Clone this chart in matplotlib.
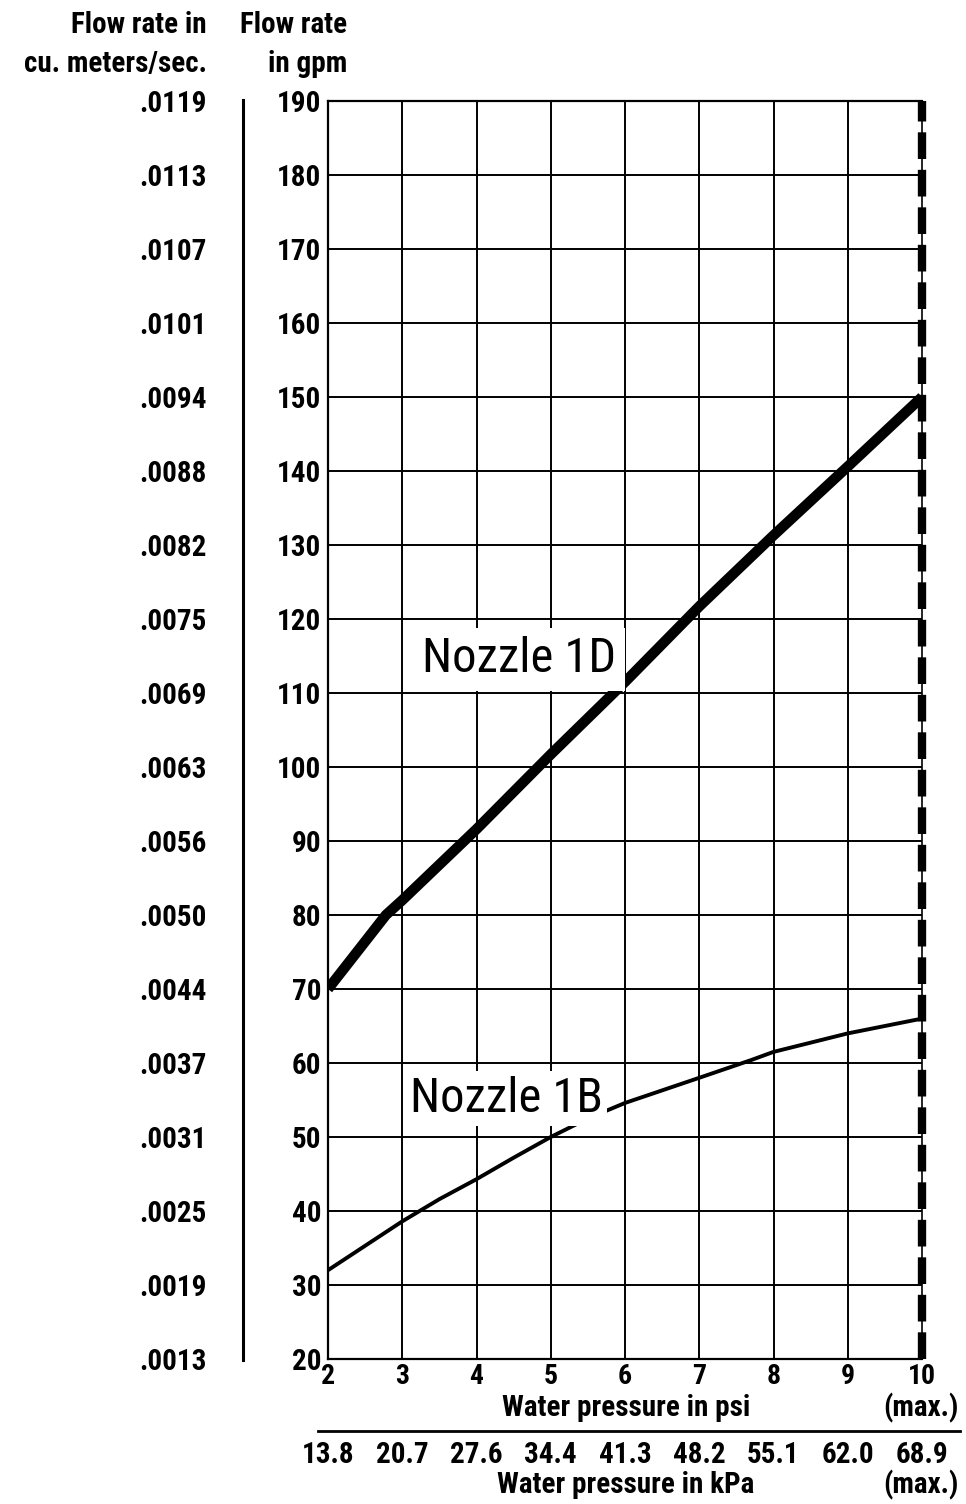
import matplotlib.pyplot as plt
import numpy as np

plt.rcParams['font.family'] = ['Roboto Condensed', 'DejaVu Sans']

# === DATA === #
psi = [2, 3, 4, 5, 6, 7, 8, 9, 10]
kpa = ['13.8', '20.7', '27.6', '34.4', '41.3', '48.2', '55.1', '62.0', '68.9']
gpm = [20, 30, 40, 50, 60, 70, 80, 90, 100, 110, 120, 130, 140, 150, 160, 170, 180, 190]
cms = ['.0013', '.0019', '.0025', '.0031', '.0037', '.0044', '.0050', '.0056', '.0063',
       '.0069', '.0075', '.0082', '.0088', '.0094', '.0101', '.0107', '.0113', '.0119']

# Nozzle 1D (thick line)
x1d = [2, 2.78, 3, 4, 5, 6, 7, 8, 9, 10]
y1d = [70, 80, 82, 91.6, 101.7, 111.5, 121.7, 131.3, 140.6, 150]

# Nozzle 1B (thin line)
x1b = [2, 3, 3.5, 4, 4.5, 5, 5.5, 6, 7, 7.7, 8, 9, 10]
y1b = [32, 38.6, 41.6, 44.3, 47.2, 50, 52.5, 54.6, 58, 60.4, 61.5, 64, 66]

W, H = 966, 1504
fig = plt.figure(figsize=(W / 100, H / 100), dpi=100)
x0, x1 = 328, 922
ytop, ybot = 101, 1359
ax = fig.add_axes([x0 / W, 1 - ybot / H, (x1 - x0) / W, (ybot - ytop) / H])

ax.set_xlim(2, 10)
ax.set_ylim(20, 190)

FS = 21   # general text size

# grid
for v in psi[1:-1]:
    ax.axvline(v, color='black', lw=1.4, zorder=1)
for g in gpm[1:-1]:
    ax.axhline(g, color='black', lw=1.4, zorder=1)

for s in ['left', 'top', 'bottom']:
    ax.spines[s].set_linewidth(1.6)
ax.spines['right'].set_linewidth(1.2)

# max pressure dashed line
ax.axvline(10, color='black', lw=6, linestyle=(0, (3.2, 1.3)), dash_capstyle='butt',
           zorder=4, clip_on=False)

ax.plot(x1d, y1d, color='black', lw=7.5, solid_capstyle='butt', zorder=3)
ax.plot(x1b, y1b, color='black', lw=2.8, zorder=3)

ax.text(3.27, 112.8, 'Nozzle 1D', fontsize=35, ha='left', va='baseline', zorder=5,
        bbox=dict(facecolor='white', edgecolor='none', pad=6))
ax.text(3.1, 53.4, 'Nozzle 1B', fontsize=35, ha='left', va='baseline', zorder=5,
        bbox=dict(facecolor='white', edgecolor='none', pad=3))

ax.set_xticks(psi)
ax.set_xticklabels([str(p) for p in psi])
ax.set_yticks(gpm)
ax.set_yticklabels([str(g) for g in gpm])
ax.tick_params(length=0, labelsize=FS, pad=5)
ax.tick_params(axis='x', labelsize=20, pad=3)
for lab in ax.get_xticklabels() + ax.get_yticklabels():
    lab.set_fontweight('bold')

# left (cubic metres) scale
for g, c in zip(gpm, cms):
    fig.text(207 / W, 1 - (ybot - (g - 20) / 170 * (ybot - ytop)) / H, c,
             ha='right', va='center_baseline', fontsize=FS, fontweight='bold')
fig.add_artist(plt.Line2D([243 / W, 243 / W], [1 - 100 / H, 1 - 1360 / H],
                          color='black', lw=2.2))

# headers
fig.text(207 / W, 1 - 33 / H, 'Flow rate in', ha='right', va='baseline', fontsize=FS, fontweight='bold')
fig.text(207 / W, 1 - 72 / H, 'cu. meters/sec.', ha='right', va='baseline', fontsize=FS, fontweight='bold')
fig.text(347 / W, 1 - 33 / H, 'Flow rate', ha='right', va='baseline', fontsize=FS, fontweight='bold')
fig.text(347 / W, 1 - 72 / H, 'in gpm', ha='right', va='baseline', fontsize=FS, fontweight='bold')

# bottom labels
fig.text(626 / W, 1 - 1416 / H, 'Water pressure in psi', ha='center', va='baseline', fontsize=FS, fontweight='bold')
fig.text(921 / W, 1 - 1416 / H, '(max.)', ha='center', va='baseline', fontsize=FS, fontweight='bold')
fig.add_artist(plt.Line2D([318 / W, 960 / W], [1 - 1431 / H, 1 - 1431 / H], color='black', lw=2))
for p, k in zip(psi, kpa):
    fig.text((x0 + (p - 2) / 8 * (x1 - x0)) / W, 1 - 1463 / H, k,
             ha='center', va='baseline', fontsize=FS, fontweight='bold')
fig.text(626 / W, 1 - 1493 / H, 'Water pressure in kPa', ha='center', va='baseline', fontsize=FS, fontweight='bold')
fig.text(921 / W, 1 - 1493 / H, '(max.)', ha='center', va='baseline', fontsize=FS, fontweight='bold')

fig.savefig('out.png', dpi=100)
